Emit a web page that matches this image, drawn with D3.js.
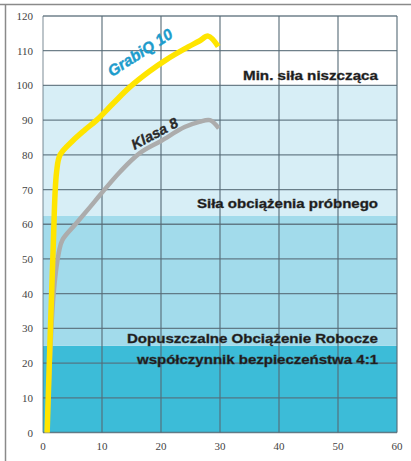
<!DOCTYPE html>
<html>
<head>
<meta charset="utf-8">
<script src="https://cdn.jsdelivr.net/npm/d3@7"></script>
<style>
  body { margin: 0; background: #fff; }
  .grid line { stroke: #566a76; stroke-width: 1.3; }
  .tick-label { font-family: "Liberation Serif", serif; font-size: 11px; fill: #444; }
  .zone-label { font-family: "Liberation Sans", Arial, sans-serif; font-size: 12.5px; font-weight: bold; fill: #1a1a1a; stroke: #333; stroke-width: 0.35; }
</style>
</head>
<body>
<svg id="chart"></svg>
<script>
// Axis ticks
const xTicks = [0, 10, 20, 30, 40, 50, 60];
const yTicks = [0, 10, 20, 30, 40, 50, 60, 70, 80, 90, 100, 110, 120];

// Load zones (from, to)
const zoneBounds = [[0, 25], [25, 62.5], [62.5, 100]];
const zoneColors = ["#3cbcd8", "#a2dbeb", "#d7eef6"];

// Zone labels: text, value of the first baseline, text width
const zoneLabels = [
  { text: "Min. siła niszcząca", at: 101.5, len: 135 },
  { text: "Siła obciążenia próbnego", at: 64.8, len: 181 },
  { text: "Dopuszczalne Obciążenie Robocze", at: 25.7, len: 251 },
  { text: "współczynnik bezpieczeństwa 4:1", at: 19.7, len: 241 }
];

// Curves
const grabiqX = [0.7, 1.7, 2.3, 2.9, 5, 7.1, 9.1, 12, 14.7, 18, 21, 24, 26.5, 28, 29.7];
const grabiqY = [0, 52, 75, 80, 84, 87.2, 90, 95, 99.5, 104, 107.5, 110.5, 112.8, 114.2, 111.2];
const klasaX = [0.7, 1.8, 2.7, 3.3, 5.5, 8, 9.7, 13, 16.4, 20, 24, 26.5, 28.3, 29.8];
const klasaY = [0, 40, 52, 55.5, 60, 65, 68.5, 75, 80.5, 84, 88, 89.5, 90, 87.6];

const W = 411, H = 461;
const margin = { left: 43, right: 14, top: 16, bottom: 28.5 };

const svg = d3.select("#chart").attr("width", W).attr("height", H);

const x = d3.scaleLinear().domain([0, 60]).range([margin.left, W - margin.right]);
const y = d3.scaleLinear().domain([0, 120]).range([H - margin.bottom, margin.top]);

// Outer frame (top and left)
svg.append("line").attr("x1", 0).attr("x2", W).attr("y1", 4.5).attr("y2", 4.5)
  .attr("stroke", "#8a8a8a").attr("stroke-width", 1.5);
svg.append("line").attr("x1", 5.5).attr("x2", 5.5).attr("y1", 4.5).attr("y2", H)
  .attr("stroke", "#8a8a8a").attr("stroke-width", 1.5);

// Zones
svg.append("g").selectAll("rect")
  .data(zoneBounds)
  .enter()
  .append("rect")
  .attr("x", x(0))
  .attr("width", x(60) - x(0))
  .attr("y", (d) => y(d[1]))
  .attr("height", (d) => y(d[0]) - y(d[1]))
  .attr("fill", (d, i) => zoneColors[i]);

// Grid
const grid = svg.append("g").attr("class", "grid");
grid.selectAll(".v")
  .data(xTicks)
  .enter()
  .append("line")
  .attr("x1", (d) => x(d)).attr("x2", (d) => x(d))
  .attr("y1", y(0)).attr("y2", y(120))
  .attr("stroke-opacity", (d) => (d === 0 ? 0.6 : 0.85));
grid.selectAll(".h")
  .data(yTicks)
  .enter()
  .append("line")
  .attr("x1", x(0)).attr("x2", x(60))
  .attr("y1", (d) => y(d)).attr("y2", (d) => y(d))
  .attr("stroke-opacity", 0.85);

// Tick labels
svg.append("g").selectAll("text")
  .data(yTicks)
  .enter()
  .append("text")
  .attr("class", "tick-label")
  .attr("x", 33)
  .attr("y", (d) => y(d) + 4)
  .attr("text-anchor", "end")
  .text((d) => d);
svg.append("g").selectAll("text")
  .data(xTicks)
  .enter()
  .append("text")
  .attr("class", "tick-label")
  .attr("x", (d) => x(d))
  .attr("y", 450)
  .attr("text-anchor", "middle")
  .text((d) => d);

// Zone labels
svg.append("g").selectAll("text")
  .data(zoneLabels)
  .enter()
  .append("text")
  .attr("class", "zone-label")
  .attr("x", (d) => 378 - d.len)
  .attr("y", (d) => y(d.at))
  .attr("textLength", (d) => d.len)
  .attr("lengthAdjust", "spacingAndGlyphs")
  .text((d) => d.text);

// Curves
const line = d3.line()
  .x((d) => x(d[0]))
  .y((d) => y(d[1]))
  .curve(d3.curveCatmullRom.alpha(0.5));

svg.append("path")
  .attr("d", line(d3.zip(klasaX, klasaY)))
  .attr("fill", "none")
  .attr("stroke", "#acacac")
  .attr("stroke-width", 4.5);

svg.append("path")
  .attr("d", line(d3.zip(grabiqX, grabiqY)))
  .attr("fill", "none")
  .attr("stroke", "#ffe500")
  .attr("stroke-width", 5.5);

// Curve labels
svg.append("text")
  .attr("transform", "translate(143,57) rotate(-33)")
  .attr("text-anchor", "middle")
  .attr("font-family", "Liberation Sans, Arial, sans-serif")
  .attr("font-size", 15.5)
  .attr("font-weight", "bold")
  .attr("font-style", "italic")
  .attr("fill", "#1d9ccc")
  .attr("stroke", "#1d9ccc")
  .attr("stroke-width", 0.4)
  .text("GrabiQ 10");

svg.append("text")
  .attr("transform", "translate(157,138) rotate(-28)")
  .attr("text-anchor", "middle")
  .attr("font-family", "Liberation Sans, Arial, sans-serif")
  .attr("font-size", 14.5)
  .attr("font-weight", "bold")
  .attr("font-style", "italic")
  .attr("fill", "#2a2a2a")
  .attr("stroke", "#2a2a2a")
  .attr("stroke-width", 0.3)
  .text("Klasa 8");
</script>
</body>
</html>
